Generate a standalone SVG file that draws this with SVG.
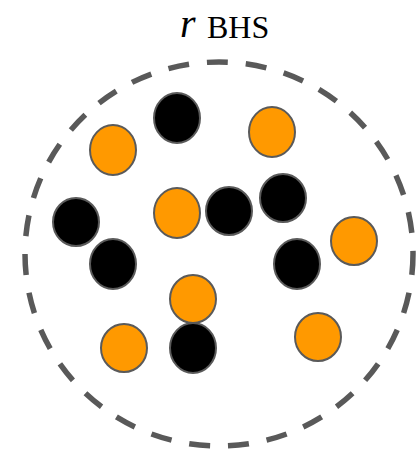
<svg xmlns="http://www.w3.org/2000/svg" width="419" height="452" viewBox="0 0 419 452">
<style>
.o{fill:#ff9900;stroke:#5a5a5a;stroke-width:2}
.b{fill:#000;stroke:#5a5a5a;stroke-width:2}
.bd{fill:none;stroke:#595959;stroke-width:5.5;stroke-dasharray:21 18}
</style>
<g id="boundary"><ellipse class="bd" cx="219" cy="254" rx="194" ry="192"/></g>
<g id="label" font-family="'Liberation Serif', 'DejaVu Serif', serif" fill="#000"><text x="180" y="37" font-size="40" font-style="italic">r</text><text x="207" y="38" font-size="32">BHS</text></g>
<g id="particles">
<ellipse id="p1" class="b" cx="177" cy="118" rx="23" ry="25"/>
<ellipse id="p2" class="o" cx="113" cy="150" rx="23" ry="25"/>
<ellipse id="p3" class="o" cx="272" cy="132" rx="23" ry="25"/>
<ellipse id="p4" class="b" cx="76" cy="222" rx="23" ry="24"/>
<ellipse id="p5" class="o" cx="177" cy="213" rx="23" ry="25"/>
<ellipse id="p6" class="b" cx="229" cy="211" rx="23" ry="24"/>
<ellipse id="p7" class="b" cx="283" cy="198" rx="23" ry="24"/>
<ellipse id="p8" class="o" cx="354" cy="241" rx="23" ry="24"/>
<ellipse id="p9" class="b" cx="113" cy="264" rx="23" ry="25"/>
<ellipse id="p10" class="b" cx="297" cy="264" rx="23" ry="25"/>
<ellipse id="p11" class="o" cx="193" cy="299" rx="23" ry="24"/>
<ellipse id="p12" class="o" cx="124" cy="348" rx="23" ry="24"/>
<ellipse id="p13" class="b" cx="193" cy="348" rx="23" ry="25"/>
<ellipse id="p14" class="o" cx="318" cy="337" rx="23" ry="24"/>
</g>
</svg>
